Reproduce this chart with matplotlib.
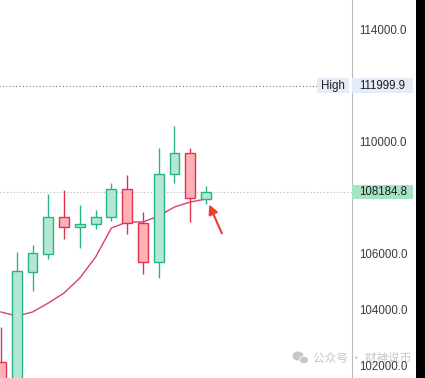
import numpy as np
import matplotlib
matplotlib.use('Agg')
import matplotlib.pyplot as plt
from matplotlib.patches import Rectangle, Ellipse
from matplotlib.transforms import blended_transform_factory

# candles
opens  = [102124, 101300, 105353, 105996, 107297, 106940, 107047, 107297, 108298, 107083, 105689, 108835, 109585, 107962]
highs  = [103375, 106057, 106307, 108130, 108273, 107737, 107558, 108524, 108810, 107487, 109764, 110561, 109764, 108416]
lows   = [101000, 101000, 104673, 105817, 106532, 106211, 106868, 107176, 106711, 105260, 105117, 108534, 107140, 107762]
closes = [101300, 105378, 106010, 107297, 106940, 107047, 107297, 108298, 107083, 105689, 108835, 109585, 107977, 108184.8]
ma     = [103911, 103768, 103911, 104233, 104590, 105127, 105878, 106914, 107129, 107129, 107343, 107665, 107844, 107951]

high_level = 111999.9
last_price = 108184.8
yticks = [102000, 104000, 106000, 110000, 114000]

GREEN_EDGE = '#27b386'
GREEN_FILL = '#b2e8d1'
RED_EDGE = '#e0344e'
RED_FILL = '#ffb0b7'

plt.rcParams['font.family'] = ['Liberation Sans', 'DejaVu Sans']

W, H = 425, 378
fig = plt.figure(figsize=(W / 100, H / 100), dpi=100)
ax_w = 351.5
ax = fig.add_axes([0, 0, ax_w / W, 1])

x = np.arange(len(opens))
o = np.array(opens); c = np.array(closes)
up = c >= o
edge = np.where(up, GREEN_EDGE, RED_EDGE)
fill = np.where(up, GREEN_FILL, RED_FILL)

ax.vlines(x, lows, highs, colors=edge, lw=1.0, zorder=2)
ax.plot(x, ma, color='#d9406e', lw=1.0, zorder=2.5)
ax.bar(x, np.abs(c - o), bottom=np.minimum(o, c), width=0.62,
       color=fill, edgecolor=edge, linewidth=1.0, zorder=3)

px = 205 / 13.0
ax.set_xlim(-1 / px, (ax_w - 1) / px)
ymin, ymax = 101552, 115066
ax.set_ylim(ymin, ymax)
upp = (ymax - ymin) / H  # price units per pixel

# dotted lines
ax.plot([-1, 316 / px], [high_level, high_level], color='#7a7a7a', lw=0.8, ls=(0, (1, 2)), zorder=1)
ax.axhline(last_price, color='#b5b5b5', lw=0.8, ls=(0, (1, 2)), zorder=1)

# right scale
for s in ['left', 'top', 'bottom']:
    ax.spines[s].set_visible(False)
ax.spines['right'].set_color('#b8b8b8')
ax.spines['right'].set_linewidth(0.8)
ax.set_xticks([])
ax.yaxis.tick_right()
ax.set_yticks(yticks)
ax.set_yticklabels([f'{t:.1f}' for t in yticks])
ax.tick_params(axis='y', length=0, pad=5.4, labelsize=8.3, labelcolor='#3a3a3a')

tr = blended_transform_factory(ax.transAxes, ax.transData)
lab_x = 1 + 7.5 / ax_w
box_w = 61 / ax_w

ax.add_patch(Rectangle((1.0, high_level - 7.5 * upp), box_w, 15 * upp, transform=tr,
                       facecolor='#e3ecf8', edgecolor='none', clip_on=False, zorder=5))
ax.text(lab_x, high_level, f'{high_level:.1f}', transform=tr, ha='left', va='center',
        fontsize=8.3, color='#1e1e1e', clip_on=False, zorder=6)
ax.add_patch(Rectangle((317 / ax_w, high_level - 7.5 * upp), 32 / ax_w, 15 * upp, transform=tr,
                       facecolor='#e3ecf8', edgecolor='none', clip_on=False, zorder=5))
ax.text(333 / ax_w, high_level, 'High', transform=tr, ha='center', va='center',
        fontsize=8.3, color='#1e1e1e', clip_on=False, zorder=6)

ax.add_patch(Rectangle((1.0, last_price - 7 * upp), box_w, 14 * upp, transform=tr,
                       facecolor='#a4e3c5', edgecolor='none', clip_on=False, zorder=5))
ax.text(lab_x, last_price, f'{last_price:.1f}', transform=tr, ha='left', va='center',
        fontsize=8.3, color='#1e1e1e', clip_on=False, zorder=6)

# red arrow at the last candle
ax.annotate('', xy=(13.13, 107844), xytext=(14.08, 106629),
            arrowprops=dict(arrowstyle='-|>', color='#f03c2c', lw=1.5, mutation_scale=14),
            zorder=7)

# watermark
ax.text(313 / W, 1 - 358 / H, '公众号 · 财神说币', transform=fig.transFigure,
        ha='left', va='center', fontsize=8.4, color='#c6c6c6',
        family=['Noto Sans CJK SC', 'DejaVu Sans'], clip_on=False, zorder=1)
ax.add_patch(Ellipse((298 / W, 1 - 356 / H), 11 / W, 9 / H, transform=fig.transFigure,
                     facecolor='#c6c6c6', edgecolor='none', clip_on=False, zorder=1))
ax.add_patch(Ellipse((304 / W, 1 - 360 / H), 9 / W, 7.5 / H, transform=fig.transFigure,
                     facecolor='#c6c6c6', edgecolor='white', lw=0.6, clip_on=False, zorder=1))

fig.add_artist(Rectangle((416 / W, 0), 9 / W, 1, transform=fig.transFigure,
                         facecolor='black', edgecolor='none'))

fig.savefig('out.png', dpi=100)
